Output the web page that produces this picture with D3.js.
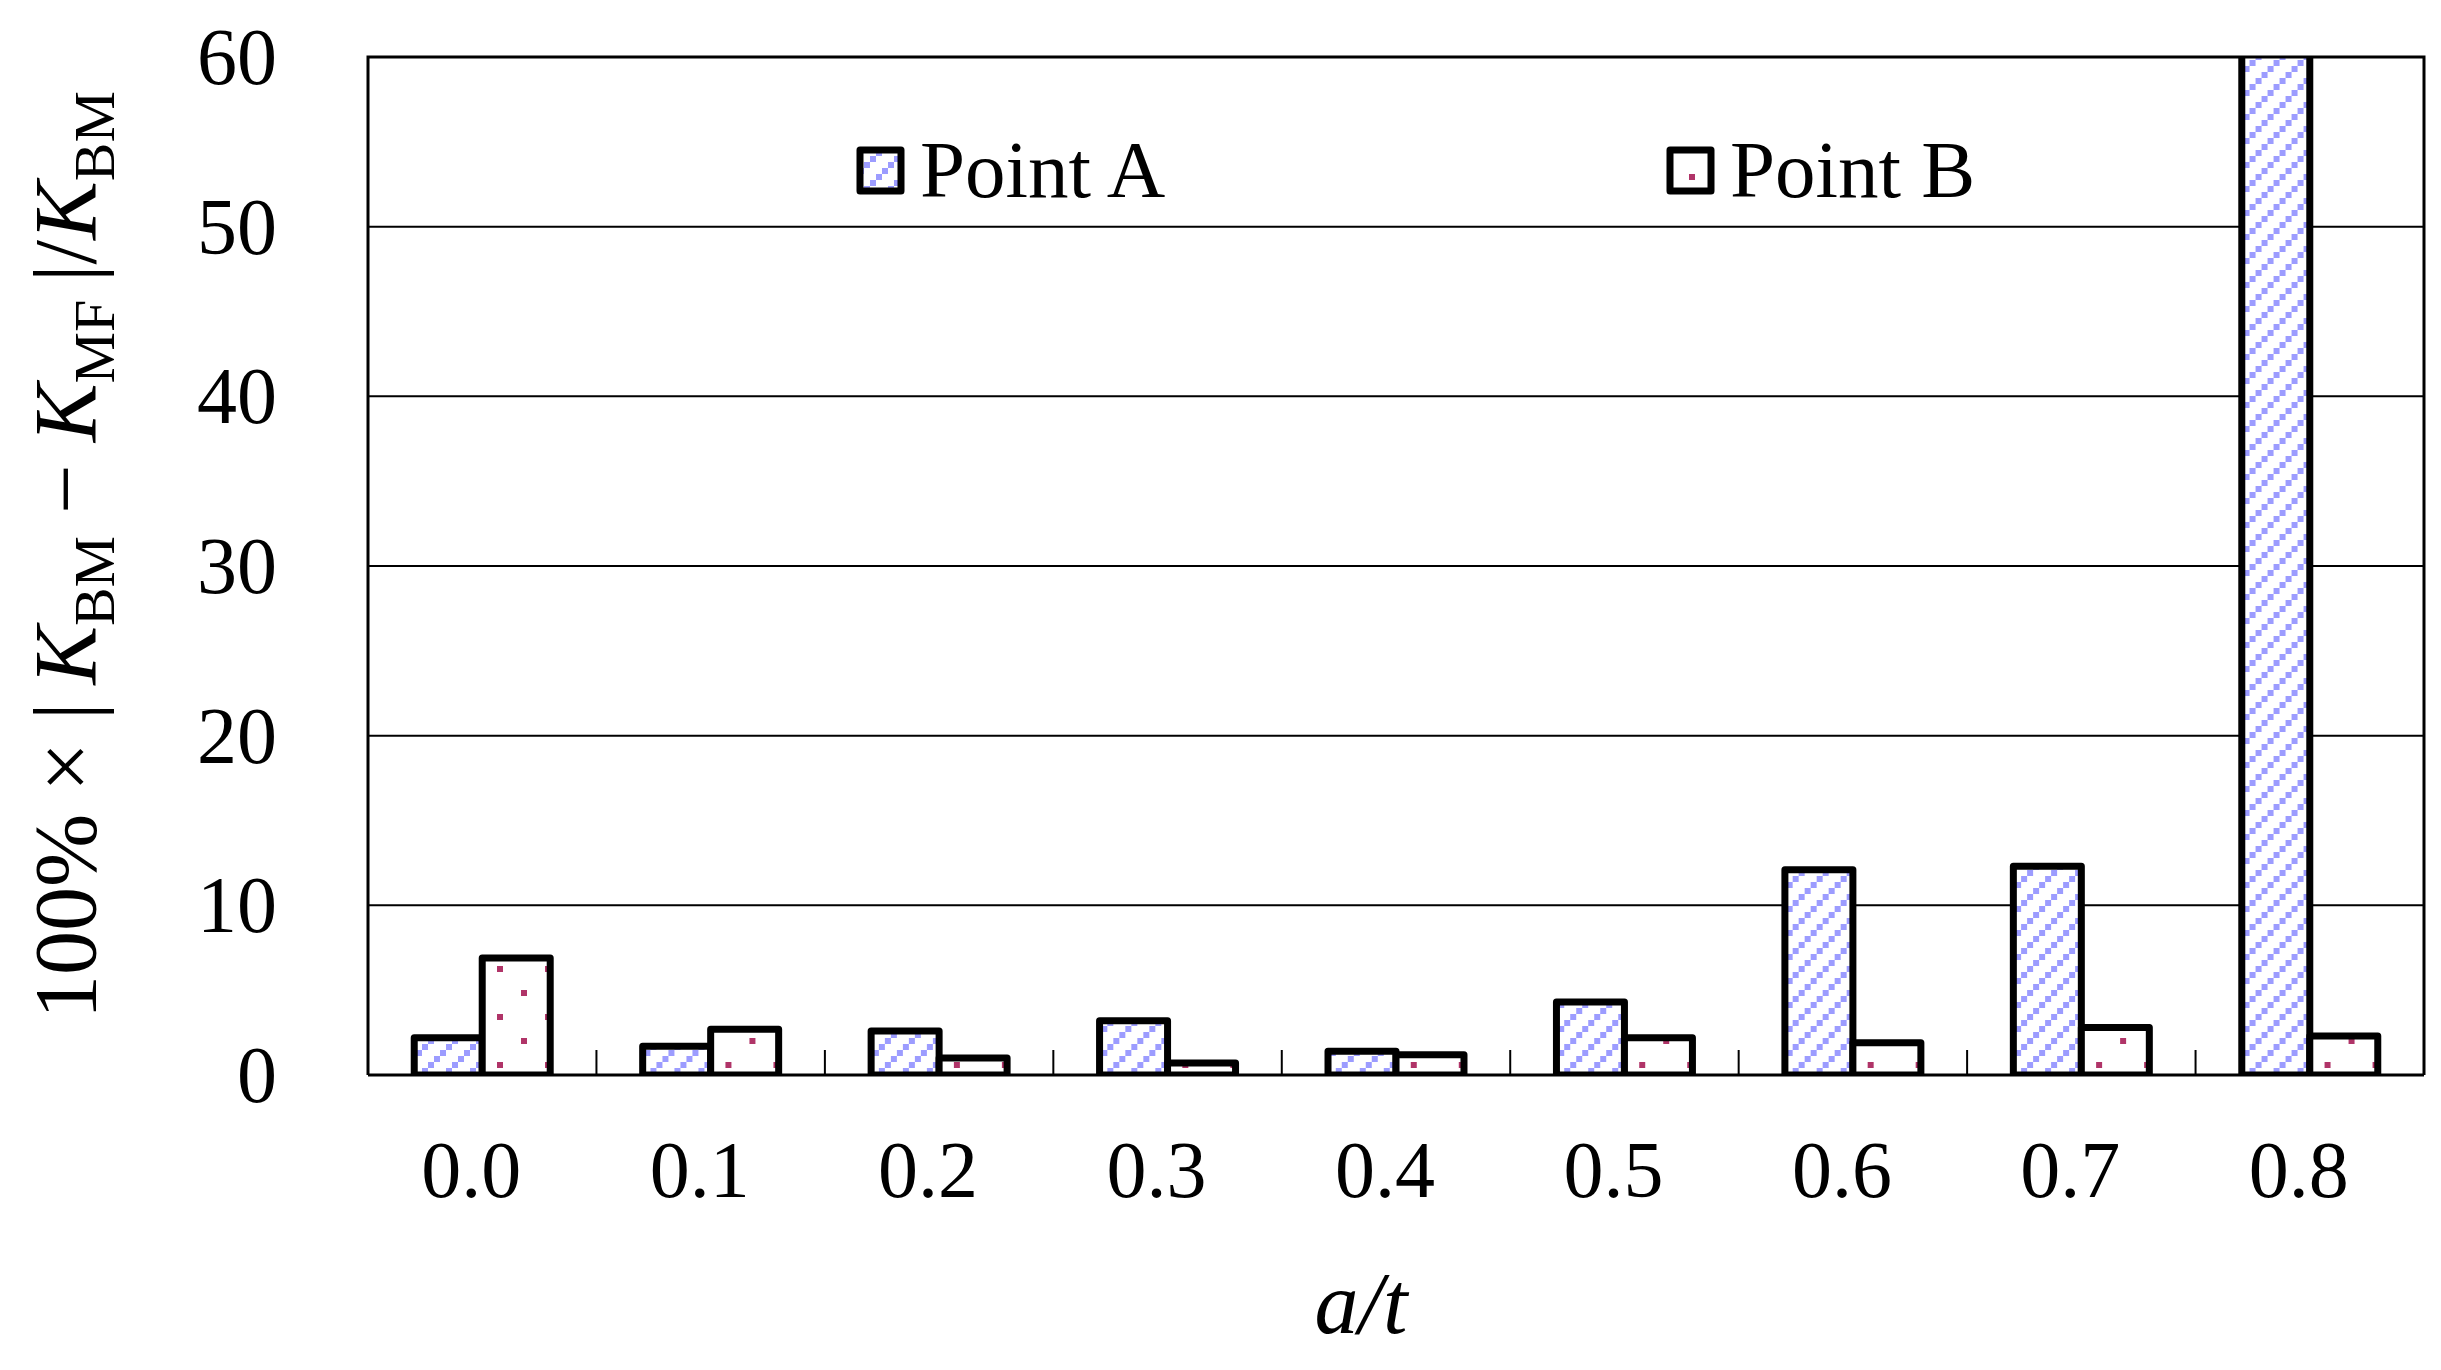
<!DOCTYPE html>
<html>
<head>
<meta charset="utf-8">
<script src="https://cdn.jsdelivr.net/npm/d3@7"></script>
<style>
  html, body { margin: 0; padding: 0; background: #fff; }
  svg { display: block; }
  text { font-family: "Liberation Serif", "Times New Roman", serif; fill: #000; }
</style>
</head>
<body>
<svg id="chart" width="2441" height="1370"></svg>
<script>
const categories = ["0.0", "0.1", "0.2", "0.3", "0.4", "0.5", "0.6", "0.7", "0.8"];
const seriesNames = ["Point A", "Point B"];
const pointA = [2.2, 1.7, 2.6, 3.2, 1.4, 4.3, 12.1, 12.3, 63];
const pointB = [6.9, 2.7, 1.0, 0.7, 1.2, 2.2, 1.9, 2.8, 2.3];
const yTicks = [0, 10, 20, 30, 40, 50, 60];

const W = 2441, H = 1370;
const margin = { left: 368, right: W - 2424, top: 57, bottom: H - 1075 };
const svg = d3.select("#chart");

const x0 = d3.scaleBand().domain(categories).range([margin.left, W - margin.right]).padding(0);
const x1 = d3.scaleBand().domain(seriesNames).range([0, x0.bandwidth()]).paddingInner(0).paddingOuter(0.68);
const y = d3.scaleLinear().domain([0, 60]).range([H - margin.bottom, margin.top]);

const defs = svg.append("defs");
// Pattern A: light blue dashed upward diagonals
const pa = defs.append("pattern").attr("id", "patA").attr("patternUnits", "userSpaceOnUse")
  .attr("width", 24).attr("height", 24).attr("x", 0).attr("y", 0);
pa.append("rect").attr("width", 24).attr("height", 24).attr("fill", "#fff");
[[0, 18], [6, 12], [12, 6], [18, 0]].forEach(([px, py]) => {
  pa.append("rect").attr("x", px).attr("y", py).attr("width", 6).attr("height", 6).attr("fill", "#9c9cff");
});
// Pattern B: sparse dark pink dots
const pb = defs.append("pattern").attr("id", "patB").attr("patternUnits", "userSpaceOnUse")
  .attr("width", 48).attr("height", 48).attr("x", 489).attr("y", 990);
pb.append("rect").attr("width", 48).attr("height", 48).attr("fill", "#fff");
[[0, 0], [24, 24]].forEach(([px, py]) => {
  pb.append("rect").attr("x", px).attr("y", py).attr("width", 6).attr("height", 6).attr("fill", "#b03468");
});
defs.append("clipPath").attr("id", "plotClip").append("rect")
  .attr("x", margin.left).attr("y", margin.top)
  .attr("width", W - margin.left - margin.right).attr("height", H - margin.top - margin.bottom);

// gridlines
svg.append("g").selectAll("line").data(yTicks.filter(d => d > 0 && d < 60)).join("line")
  .attr("x1", margin.left).attr("x2", W - margin.right)
  .attr("y1", d => y(d)).attr("y2", d => y(d))
  .attr("stroke", "#000").attr("stroke-width", 2);

// bars
const data = categories.map((c, i) => ({ cat: c, vals: [
  { s: "Point A", v: pointA[i], fill: "url(#patA)" },
  { s: "Point B", v: pointB[i], fill: "url(#patB)" }
]}));
const barsG = svg.append("g").attr("clip-path", "url(#plotClip)");
barsG.selectAll("g").data(data).join("g")
  .attr("transform", d => `translate(${x0(d.cat)},0)`)
  .selectAll("rect").data(d => d.vals).join("rect")
  .attr("x", d => x1(d.s)).attr("width", x1.bandwidth())
  .attr("y", d => y(d.v)).attr("height", d => y(0) - y(d.v))
  .attr("fill", d => d.fill)
  .attr("stroke", "#000").attr("stroke-width", 7).attr("stroke-linejoin", "round");

// frame (left, top, right)
svg.append("path")
  .attr("d", `M${margin.left},${y(0)} V${y(60)} H${W - margin.right} V${y(0)}`)
  .attr("fill", "none").attr("stroke", "#000").attr("stroke-width", 3);
// x axis line
svg.append("line").attr("x1", margin.left).attr("x2", W - margin.right)
  .attr("y1", y(0)).attr("y2", y(0)).attr("stroke", "#000").attr("stroke-width", 3);
// category boundary ticks (inside)
svg.append("g").selectAll("line").data(categories.slice(1)).join("line")
  .attr("x1", d => x0(d)).attr("x2", d => x0(d))
  .attr("y1", y(0)).attr("y2", y(0) - 25)
  .attr("stroke", "#000").attr("stroke-width", 2);

// y tick labels
svg.append("g").selectAll("text").data(yTicks).join("text")
  .attr("x", 277).attr("y", d => y(d) + 27)
  .attr("text-anchor", "end").attr("font-size", 80)
  .text(d => d);

// x tick labels
svg.append("g").selectAll("text").data(categories).join("text")
  .attr("x", d => x0(d) + x0.bandwidth() / 2 - 11).attr("y", 1197)
  .attr("text-anchor", "middle").attr("font-size", 80)
  .text(d => d);

// x axis title
const xt = svg.append("text").attr("x", 1361).attr("y", 1333)
  .attr("text-anchor", "middle").attr("font-size", 88).attr("font-style", "italic");
xt.text("a/t");

// y axis title
const yt = svg.append("text").attr("transform", "translate(95,555) rotate(-90)")
  .attr("text-anchor", "middle").attr("font-size", 88);
const sub = 19;
yt.append("tspan").text("100% × |\u2009");
yt.append("tspan").attr("font-style", "italic").text("K");
yt.append("tspan").attr("font-size", 58).attr("dy", sub).text("BM");
yt.append("tspan").attr("dy", -sub).text(" − ");
yt.append("tspan").attr("font-style", "italic").text("K");
yt.append("tspan").attr("font-size", 58).attr("dy", sub).text("MF");
yt.append("tspan").attr("dy", -sub).text("\u2009|/");
yt.append("tspan").attr("font-style", "italic").text("K");
yt.append("tspan").attr("font-size", 58).attr("dy", sub).text("BM");

// legend
const legendX = [860, 1670];
const lg = svg.append("g").selectAll("g").data(seriesNames).join("g");
lg.append("rect")
  .attr("x", (d, i) => legendX[i]).attr("y", 150).attr("width", 41).attr("height", 41)
  .attr("fill", (d, i) => i === 0 ? "url(#patA)" : "url(#patB)")
  .attr("stroke", "#000").attr("stroke-width", 7).attr("stroke-linejoin", "round");
lg.append("text")
  .attr("x", (d, i) => legendX[i] + 60).attr("y", 197)
  .attr("font-size", 81).text(d => d);
</script>
</body>
</html>
